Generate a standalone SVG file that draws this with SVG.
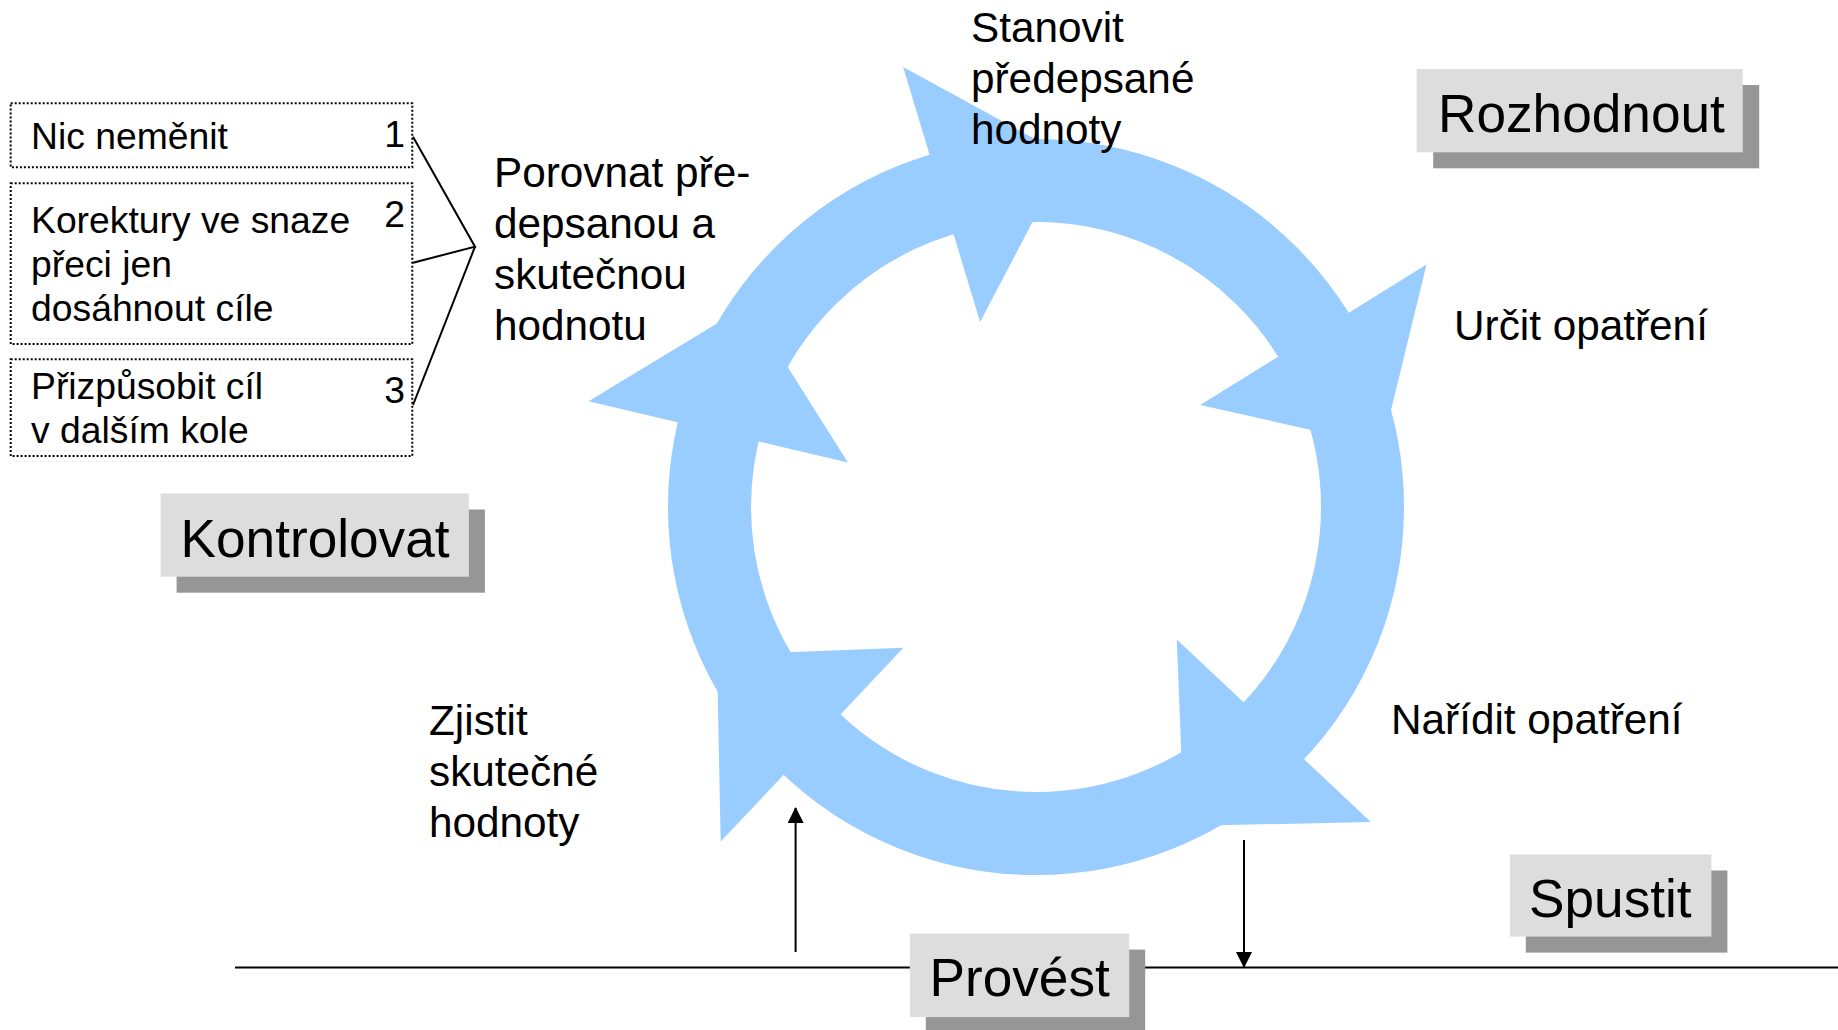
<svg xmlns="http://www.w3.org/2000/svg" width="1838" height="1030" viewBox="0 0 1838 1030">
  <style>
    text { font-family: "Liberation Sans", Arial, sans-serif; fill: #000000; }
    .lbl { font-size: 42.3px; }
    .opt { font-size: 37.3px; }
    .ttl { font-size: 53.2px; }
    .box { fill: #DDDDDD; }
    .shadow { fill: #969696; }
    .dotted { fill: #FFFFFF; stroke: #000000; stroke-width: 2; stroke-dasharray: 2 2; }
    .ring { fill: none; stroke: #99CCFF; stroke-width: 83; }
    .head { fill: #99CCFF; }
    .conn { fill: none; stroke: #000000; stroke-width: 2; }
  </style>
  <defs>
    <marker id="arr" viewBox="0 0 16 16" refX="15" refY="8" markerWidth="16" markerHeight="16" markerUnits="userSpaceOnUse" orient="auto">
      <path d="M0,0 L16,8 L0,16 Z" fill="#000000"/>
    </marker>
  </defs>
  <rect width="1838" height="1030" fill="#FFFFFF"/>

  <g id="cycle">
    <circle class="ring" cx="1036" cy="507" r="326.5"/>
    <polygon class="head" points="588.6,401.3 847.9,462.5 748.3,304.6"/>
    <polygon class="head" points="903.1,66.9 980.1,322.0 1066.8,156.6"/>
    <polygon class="head" points="1426.5,264.4 1200.2,405.0 1382.3,445.8"/>
    <polygon class="head" points="1370.8,822.0 1176.8,639.4 1184.2,826.0"/>
    <polygon class="head" points="720.7,841.6 903.4,647.7 716.9,654.9"/>
  </g>

  <g id="connectors">
    <line class="conn" x1="235" y1="967.5" x2="1838" y2="967.5"/>
    <line class="conn" x1="795.6" y1="952" x2="795.6" y2="808" marker-end="url(#arr)"/>
    <line class="conn" x1="1244" y1="840" x2="1244" y2="967" marker-end="url(#arr)"/>
    <polyline class="conn" points="413,136.7 475,246.7 413,262.7"/>
    <line class="conn" x1="475" y1="246.7" x2="413" y2="405"/>
  </g>

  <g id="opt1">
    <rect class="dotted" x="10.7" y="103.3" width="401.6" height="64"/>
    <text class="opt" x="31" y="149">Nic neměnit</text>
    <text class="opt" x="405" y="147" text-anchor="end">1</text>
  </g>
  <g id="opt2">
    <rect class="dotted" x="10.7" y="183.3" width="401.6" height="160.7"/>
    <text class="opt" x="31" y="232.7">Korektury ve snaze</text>
    <text class="opt" x="31" y="276.7">přeci jen</text>
    <text class="opt" x="31" y="320.7">dosáhnout cíle</text>
    <text class="opt" x="405" y="227.3" text-anchor="end">2</text>
  </g>
  <g id="opt3">
    <rect class="dotted" x="10.7" y="359.3" width="401.6" height="96.7"/>
    <text class="opt" x="31" y="399.3">Přizpůsobit cíl</text>
    <text class="opt" x="31" y="443.3">v dalším kole</text>
    <text class="opt" x="405" y="403.3" text-anchor="end">3</text>
  </g>

  <g id="porovnat">
    <text class="lbl" x="494" y="187">Porovnat pře-</text>
    <text class="lbl" x="494" y="238">depsanou a</text>
    <text class="lbl" x="494" y="288.5">skutečnou</text>
    <text class="lbl" x="494" y="339.5">hodnotu</text>
  </g>
  <g id="stanovit">
    <text class="lbl" x="971" y="42">Stanovit</text>
    <text class="lbl" x="971" y="93">předepsané</text>
    <text class="lbl" x="971" y="144">hodnoty</text>
  </g>
  <g id="urcit">
    <text class="lbl" x="1454" y="340">Určit opatření</text>
  </g>
  <g id="naridit">
    <text class="lbl" x="1391" y="734">Nařídit opatření</text>
  </g>
  <g id="zjistit">
    <text class="lbl" x="429" y="735">Zjistit</text>
    <text class="lbl" x="429" y="786">skutečné</text>
    <text class="lbl" x="429" y="837">hodnoty</text>
  </g>

  <g id="rozhodnout">
    <rect class="shadow" x="1433.2" y="85" width="326" height="83.3"/>
    <rect class="box" x="1416.7" y="69" width="326" height="83.3"/>
    <text class="ttl" x="1438" y="131.5">Rozhodnout</text>
  </g>
  <g id="kontrolovat">
    <rect class="shadow" x="176.6" y="509.5" width="308.3" height="83.2"/>
    <rect class="box" x="160.6" y="493.5" width="308.3" height="83.2"/>
    <text class="ttl" x="180.5" y="556.8">Kontrolovat</text>
  </g>
  <g id="spustit">
    <rect class="shadow" x="1525.8" y="870.5" width="201.6" height="82.1"/>
    <rect class="box" x="1509.8" y="854.5" width="201.6" height="82.1"/>
    <text class="ttl" x="1529" y="916.7">Spustit</text>
  </g>
  <g id="provest">
    <rect class="shadow" x="925.8" y="949.6" width="219.4" height="83.5"/>
    <rect class="box" x="909.8" y="933.6" width="219.4" height="83.5"/>
    <text class="ttl" x="929.5" y="995.5">Provést</text>
  </g>
</svg>
